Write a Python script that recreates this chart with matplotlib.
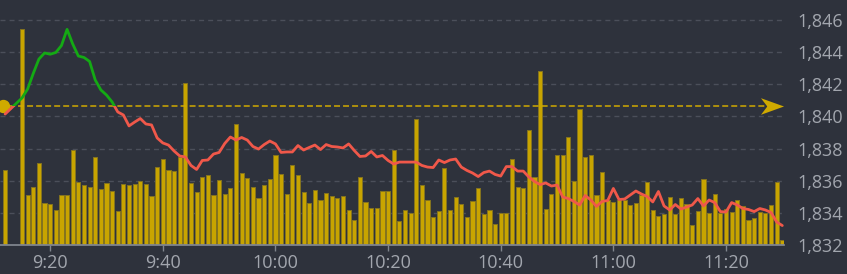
import numpy as np
import matplotlib
matplotlib.use("Agg")
import matplotlib.pyplot as plt
from matplotlib.patches import Rectangle
from matplotlib.path import Path

plt.rcParams['font.family'] = ['Open Sans', 'DejaVu Sans']
plt.rcParams['lines.scale_dashes'] = False

# ---------------- data ----------------
# minute of each bar, counted from 9:00 (first bar is the 9:12 pre-open print)
minutes = [12] + list(range(15, 151))

volume = [750,
          2157, 500, 583, 817, 420, 413, 350, 497, 503, 953, 630, 600, 580, 877,
          560, 617, 537, 337, 610, 600, 607, 640, 610, 490, 780, 857, 747, 740, 883, 1620, 623, 527,
          677, 700, 500, 647, 510, 567, 1210, 723, 670, 583, 467, 600, 660, 900, 707, 510, 800, 697,
          527, 420, 550, 450, 520, 490, 470, 487, 347, 250, 680, 427, 367, 367, 537, 537, 950, 240,
          347, 323, 1263, 600, 447, 283, 337, 773, 350, 477, 407, 280, 440, 567, 307, 350, 213, 317,
          317, 857, 583, 573, 1150, 677, 1740, 360, 510, 903, 903, 1077, 640, 1357, 877, 897, 497,
          730, 450, 433, 450, 450, 403, 420, 500, 630, 353, 290, 310, 477, 310, 467, 407, 200, 340,
          663, 323, 510, 323, 357, 333, 447, 387, 247, 267, 327, 320, 403, 633, 47]

price = [1840.15,
         1841.15, 1841.71, 1842.68, 1843.57, 1843.95, 1843.87, 1843.98, 1844.41, 1845.42, 1844.51,
         1843.76, 1843.67, 1843.42, 1842.27, 1841.65,
         1841.33, 1840.90, 1840.28, 1840.09, 1839.41, 1839.65, 1839.87, 1839.53, 1839.47, 1838.66,
         1838.35, 1838.22, 1837.85, 1837.54, 1837.48, 1836.95, 1836.70,
         1837.26, 1837.29, 1837.66, 1837.76, 1838.32, 1838.72, 1838.53, 1838.69, 1838.53, 1838.13,
         1837.97, 1838.25, 1838.47, 1838.29, 1837.76, 1837.79, 1837.79, 1838.19,
         1837.91, 1838.07, 1838.22, 1837.94, 1838.25, 1838.13, 1838.10, 1838.04, 1838.29, 1837.88,
         1837.51, 1837.54, 1837.82, 1837.48, 1837.57, 1837.26, 1837.04, 1837.16,
         1837.16, 1837.16, 1837.16, 1836.95, 1836.85, 1836.82, 1837.29, 1837.13, 1837.29, 1837.35,
         1836.85, 1836.64, 1836.48, 1836.26, 1836.51, 1836.60, 1836.39, 1836.29,
         1836.88, 1836.88, 1836.60, 1836.60, 1836.23, 1835.95, 1835.76, 1835.86, 1835.67, 1835.73,
         1834.99, 1834.89, 1834.71, 1834.49, 1835.08, 1834.80, 1834.40,
         1834.71, 1834.77, 1835.52, 1834.83, 1834.86, 1835.11, 1835.36, 1835.17, 1835.02, 1834.68,
         1835.33, 1834.43, 1834.18, 1834.52, 1834.24, 1834.36, 1834.49, 1834.89,
         1834.43, 1834.80, 1834.64, 1834.08, 1834.05, 1834.64, 1834.49, 1834.27, 1834.21, 1834.08,
         1834.27, 1834.18, 1834.02, 1833.43, 1833.21]

ref_price = 1840.62          # previous close / reference level
y_ticks = [1832, 1834, 1836, 1838, 1840, 1842, 1844, 1846]
x_ticks = [20, 40, 60, 80, 100, 120, 140]
x_labels = ['9:20', '9:40', '10:00', '10:20', '10:40', '11:00', '11:20']

# ---------------- style ----------------
BG = '#2e323c'
GRID = '#4b4f5a'
TXT = '#a2a6ae'
GOLD = '#d0aa00'
BAR = '#c8a400'
BAR_EDGE = '#85741f'
RED = '#f0584a'
GREEN = '#14aa14'
AXLINE = '#7f848d'

W, H = 847, 274
fig = plt.figure(figsize=(W / 100, H / 100), dpi=100, facecolor=BG)
rect = [0 / W, (H - 245) / H, 784 / W, 240 / H]
ax = fig.add_axes(rect)
axv = ax.twinx()
axv.set_zorder(0)
ax.set_zorder(1)
ax.patch.set_visible(False)
axv.patch.set_visible(False)

x_lo, x_hi = 11.09, 150.3
ax.set_xlim(x_lo, x_hi)
ax.set_ylim(1832, 1832 + 240 / 16.07)
axv.set_ylim(0, 2400)

# grid lines (behind bars)
axv.hlines(y_ticks[1:], x_lo, x_hi, colors=GRID, linewidth=1.0,
           linestyles=(0, (3.6, 2.9)), transform=ax.transData, zorder=0)

# volume bars
axv.bar(minutes, volume, width=0.74, color=BAR, edgecolor=BAR_EDGE,
        linewidth=0.7, zorder=2)

# reference dashed line, circle and arrow
arrow_x = x_hi - 2.2
ax.hlines(ref_price, x_lo, arrow_x, colors=GOLD, linewidth=1.1,
          linestyles=(0, (4.3, 2.2)), zorder=3)
ax.plot([x_lo + 0.45], [ref_price], marker='o', markersize=8.6, color=GOLD,
        clip_on=False, zorder=4)
arrow = Path([(1, 0), (-1, 0.72), (-0.45, 0), (-1, -0.72), (1, 0)],
             [Path.MOVETO, Path.LINETO, Path.LINETO, Path.LINETO, Path.CLOSEPOLY])
ax.plot([arrow_x], [ref_price], marker=arrow, markersize=16.6, color=GOLD,
        markeredgewidth=0, clip_on=False, zorder=4)

# price line: green above reference, red below
above = Rectangle((x_lo - 5, ref_price), x_hi - x_lo + 10, 100, transform=ax.transData)
below = Rectangle((x_lo - 5, ref_price - 100), x_hi - x_lo + 10, 100, transform=ax.transData)
lg, = ax.plot(minutes, price, color=GREEN, linewidth=2.0, zorder=5,
              solid_joinstyle='round', solid_capstyle='round')
lr, = ax.plot(minutes, price, color=RED, linewidth=2.0, zorder=5,
              solid_joinstyle='round', solid_capstyle='round')
lg.set_clip_path(above)
lr.set_clip_path(below)

# axes decoration
for s in ['top', 'left', 'right']:
    ax.spines[s].set_visible(False)
    axv.spines[s].set_visible(False)
axv.spines['bottom'].set_visible(False)
ax.spines['bottom'].set_color(AXLINE)
ax.spines['bottom'].set_linewidth(1.3)

axv.set_yticks([])
ax.yaxis.tick_right()
ax.set_yticks(y_ticks)
ax.set_yticklabels([f"{v:,}" for v in y_ticks])
ax.tick_params(axis='y', length=0, pad=9.5, labelsize=13, labelcolor=TXT)
ax.set_xticks(x_ticks)
ax.set_xticklabels(x_labels)
ax.tick_params(axis='x', length=4, width=1, color=AXLINE, pad=2.5,
               labelsize=13, labelcolor=TXT)

fig.savefig('out.png', dpi=100, facecolor=BG)
